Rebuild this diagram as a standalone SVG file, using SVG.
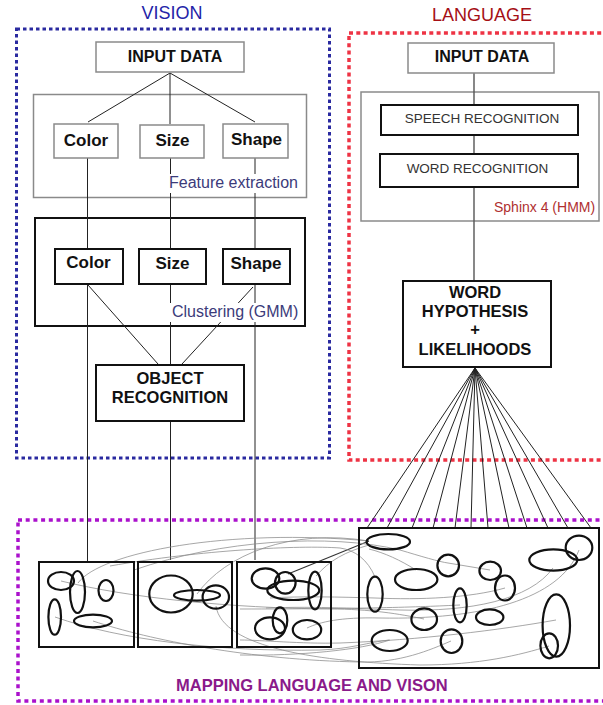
<svg xmlns="http://www.w3.org/2000/svg" width="603" height="705" viewBox="0 0 603 705">
<style>
text{font-family:"Liberation Sans",Arial,sans-serif;}
.title{font-size:18px;text-anchor:middle;}
.b16{font-size:16px;font-weight:bold;text-anchor:middle;fill:#111;}
.feat{font-size:17px;font-weight:bold;text-anchor:middle;fill:#111;}
.rec{font-size:13.5px;text-anchor:middle;fill:#333;}
.lbl{font-size:16px;fill:#3b3b7a;}
.gbox{fill:#fff;stroke:#8a8a8a;stroke-width:1.5;}
.gframe{fill:none;stroke:#8a8a8a;stroke-width:1.5;}
.kbox{fill:#fff;stroke:#111;stroke-width:2;}
.kframe{fill:none;stroke:#111;stroke-width:2;}
.ln{stroke:#222;stroke-width:1;fill:none;}
.gl{stroke:#555;stroke-width:1.4;fill:none;}
.cv{stroke:#8a8a8a;stroke-width:0.75;fill:none;}
.el{fill:none;stroke:#111;stroke-width:2.2;}
</style>

<!-- frames -->
<g id="vision-frame">
<rect x="16.5" y="29" width="313" height="429" fill="none" stroke="#2a2aa0" stroke-width="3" stroke-dasharray="3.5 3"/>
<text class="title" x="172" y="19" fill="#2323a8">VISION</text>
</g>
<g id="language-frame">
<rect x="349" y="33" width="270" height="427" fill="none" stroke="#ee3344" stroke-width="3.5" stroke-dasharray="4 3.3"/>
<text class="title" x="482" y="21" fill="#a50f15">LANGUAGE</text>
</g>
<g id="mapping-frame">
<rect x="18" y="520" width="600" height="181" fill="none" stroke="#aa11cc" stroke-width="3.5" stroke-dasharray="4 3.7"/>
</g>

<g id="feature-extraction-group"><rect class="gframe" x="33.5" y="94.5" width="273" height="103"/></g>
<g id="clustering-group"><rect class="kframe" x="35" y="218" width="270" height="108"/></g>
<g id="sphinx-group"><rect class="gframe" x="361" y="92" width="238" height="129"/></g>

<!-- connectors -->
<g id="connectors">
<line class="ln" x1="170" y1="73" x2="88" y2="122"/>
<line class="ln" x1="170" y1="73" x2="170" y2="124"/>
<line class="ln" x1="170" y1="73" x2="255" y2="122"/>
<line class="ln" x1="87.5" y1="158" x2="87.5" y2="562"/>
<line class="ln" x1="170.5" y1="158" x2="170.5" y2="560"/>
<line class="ln" x1="255" y1="158" x2="255" y2="560"/>
<line class="ln" x1="88" y1="285" x2="158" y2="364"/>
<line class="ln" x1="253" y1="287" x2="182" y2="364"/>
<line class="gl" x1="474" y1="73" x2="474" y2="105"/>
<line class="gl" x1="474" y1="135" x2="474" y2="154"/>
<line class="gl" x1="474" y1="187" x2="474" y2="281"/>
<g class="ln">
<line x1="475" y1="368" x2="367" y2="528"/>
<line x1="475" y1="368" x2="387" y2="528"/>
<line x1="475" y1="368" x2="412" y2="528"/>
<line x1="475" y1="368" x2="433" y2="528"/>
<line x1="475" y1="368" x2="455" y2="528"/>
<line x1="475" y1="368" x2="471" y2="528"/>
<line x1="475" y1="368" x2="488" y2="528"/>
<line x1="475" y1="368" x2="509" y2="528"/>
<line x1="475" y1="368" x2="527" y2="528"/>
<line x1="475" y1="368" x2="548" y2="528"/>
<line x1="475" y1="368" x2="568" y2="528"/>
<line x1="475" y1="368" x2="591" y2="528"/>
</g>
<!-- mapping curves -->
<g class="cv">
<path d="M78,583 C100,552 230,528 369,541"/>
<path d="M197,594 C225,555 290,528 369,541"/>
<path d="M288,574 L369,541" stroke="#333" stroke-width="1.1"/>
<path d="M316,576 C330,560 345,552 369,545"/>
<path d="M134,570 C220,540 330,533 400,550 C420,556 440,562 448,563 L490,570"/>
<path d="M61,581 C130,598 230,608 330,609 C370,609 400,614 424,619"/>
<path d="M55,617 C120,640 220,652 320,650 C350,649 370,642 389,640"/>
<path d="M93,621 C150,640 250,660 360,662 C400,663 430,650 451,641"/>
<path d="M216,606 C222,648 320,662 420,665 C480,665 520,655 549,646"/>
<path d="M579,550 C560,600 480,620 380,618 C340,617 320,622 307,628"/>
<path d="M553,568 C530,600 470,612 400,610 C360,609 320,606 266,608"/>
<path d="M556,620 C500,630 420,640 340,643 C300,644 262,640 240,640"/>
<path d="M375,577 C368,560 355,550 340,548 C300,545 200,550 110,566"/>
<path d="M460,605 C420,607 360,609 240,609"/>
<path d="M416,570 C400,560 385,553 369,549"/>
<path d="M505,588 C470,598 420,600 375,598 C340,597 300,596 270,598"/>
<path d="M390,640 C360,650 300,656 240,655"/>
</g>
</g>

<!-- vision nodes -->
<g id="vision-input"><rect class="gbox" x="96" y="42" width="148" height="30"/><text class="b16" x="175" y="62">INPUT DATA</text></g>
<g id="feat-color"><rect class="gbox" x="54" y="124" width="64" height="34"/><text class="feat" x="86" y="146">Color</text></g>
<g id="feat-size"><rect class="gbox" x="140" y="125" width="64" height="33"/><text class="feat" x="172.5" y="146">Size</text></g>
<g id="feat-shape"><rect class="gbox" x="223" y="124" width="65" height="34"/><text class="feat" x="256.5" y="145">Shape</text></g>
<g id="feature-label"><rect x="167" y="174" width="134" height="19" fill="#fff"/><text class="lbl" x="169" y="188">Feature extraction</text></g>
<g id="clu-color"><rect class="kbox" x="55" y="249" width="68" height="35"/><text class="feat" x="88.5" y="268">Color</text></g>
<g id="clu-size"><rect class="kbox" x="139" y="249" width="67" height="35"/><text class="feat" x="172.5" y="269">Size</text></g>
<g id="clu-shape"><rect class="kbox" x="223" y="249" width="67" height="35"/><text class="feat" x="256" y="269">Shape</text></g>
<g id="clustering-label"><rect x="170" y="303" width="130" height="19" fill="#fff"/><text class="lbl" x="172" y="317">Clustering (GMM)</text></g>
<g id="object-recognition"><rect class="kbox" x="96" y="365" width="148" height="56"/><text class="b16" x="170" y="384" style="font-size:16.5px">OBJECT</text><text class="b16" x="170" y="403" style="font-size:16.5px">RECOGNITION</text></g>

<!-- language nodes -->
<g id="lang-input"><rect class="gbox" x="408" y="43" width="146" height="30"/><text class="b16" x="482" y="62">INPUT DATA</text></g>
<g id="speech-recognition"><rect class="kbox" x="381" y="105" width="197" height="30" stroke="#222"/><text class="rec" x="482" y="123">SPEECH RECOGNITION</text></g>
<g id="word-recognition"><rect class="kbox" x="380" y="154" width="198" height="33" stroke="#222"/><text class="rec" x="477.5" y="173">WORD RECOGNITION</text></g>
<g id="sphinx-label"><text x="494" y="212" style="font-size:14px" fill="#b03030">Sphinx 4 (HMM)</text></g>
<g id="word-hypothesis"><rect class="kbox" x="403" y="281" width="148" height="86"/>
<text class="b16" x="475" y="298" style="font-size:16.5px">WORD</text>
<text class="b16" x="475" y="317" style="font-size:16.5px">HYPOTHESIS</text>
<text class="b16" x="475" y="335" style="font-size:16.5px">+</text>
<text class="b16" x="475" y="355" style="font-size:16.5px">LIKELIHOODS</text></g>

<!-- mapping nodes -->
<g id="map-color">
<rect class="kframe" x="39" y="562" width="95" height="85"/>
<ellipse class="el" cx="61" cy="581" rx="13" ry="9"/>
<ellipse class="el" cx="77.5" cy="592" rx="7.5" ry="21"/>
<ellipse class="el" cx="106" cy="590.5" rx="7.5" ry="10.5"/>
<ellipse class="el" cx="54.7" cy="617" rx="6.3" ry="17.7"/>
<ellipse class="el" cx="93" cy="621" rx="19" ry="6.3"/>
</g>
<g id="map-size">
<rect class="kframe" x="138" y="562" width="94" height="85"/>
<ellipse class="el" cx="171" cy="594" rx="21.7" ry="18.5"/>
<ellipse class="el" cx="197" cy="595.3" rx="23" ry="5.3"/>
<ellipse class="el" cx="215.8" cy="597" rx="13.2" ry="11.7"/>
</g>
<g id="map-shape">
<rect class="kframe" x="237" y="562" width="94" height="85"/>
<ellipse class="el" cx="265.5" cy="578.5" rx="13.8" ry="10.2"/>
<ellipse class="el" cx="285.3" cy="582.8" rx="10.3" ry="10.8"/>
<ellipse class="el" cx="293.3" cy="590.3" rx="26" ry="9.7"/>
<ellipse class="el" cx="315" cy="590.5" rx="6.7" ry="18.8"/>
<ellipse class="el" cx="270" cy="628.3" rx="15" ry="11"/>
<ellipse class="el" cx="280" cy="620.3" rx="7.3" ry="13"/>
<ellipse class="el" cx="307" cy="629.7" rx="14.2" ry="9.7"/>
</g>
<g id="map-words">
<rect class="kframe" x="359" y="528" width="240" height="140"/>
<ellipse class="el" cx="388.3" cy="541.7" rx="21.7" ry="7.7"/>
<ellipse class="el" cx="579" cy="547.8" rx="13.3" ry="12.2"/>
<ellipse class="el" cx="553.3" cy="560" rx="24" ry="10.7"/>
<ellipse class="el" cx="448.2" cy="565.5" rx="10.8" ry="10.8"/>
<ellipse class="el" cx="416.2" cy="579.5" rx="21.2" ry="10.5"/>
<ellipse class="el" cx="490.2" cy="570.8" rx="10.8" ry="9.2"/>
<ellipse class="el" cx="505" cy="588" rx="10" ry="12.5"/>
<ellipse class="el" cx="375" cy="594.2" rx="7.7" ry="17.5"/>
<ellipse class="el" cx="460" cy="605.3" rx="6.7" ry="17"/>
<ellipse class="el" cx="424.2" cy="619.2" rx="12.8" ry="10.8"/>
<ellipse class="el" cx="489.7" cy="617.2" rx="13.7" ry="7.8"/>
<ellipse class="el" cx="556.3" cy="625.5" rx="13.7" ry="31.2"/>
<ellipse class="el" cx="389.7" cy="640.5" rx="18" ry="10.5"/>
<ellipse class="el" cx="451.5" cy="641.2" rx="10.8" ry="11.8"/>
<ellipse class="el" cx="549.2" cy="645.8" rx="8.8" ry="12.5"/>
</g>
<g id="mapping-label"><text x="176" y="691" style="font-size:16.5px;font-weight:bold" fill="#8a1a8a">MAPPING LANGUAGE AND VISON</text></g>
</svg>
